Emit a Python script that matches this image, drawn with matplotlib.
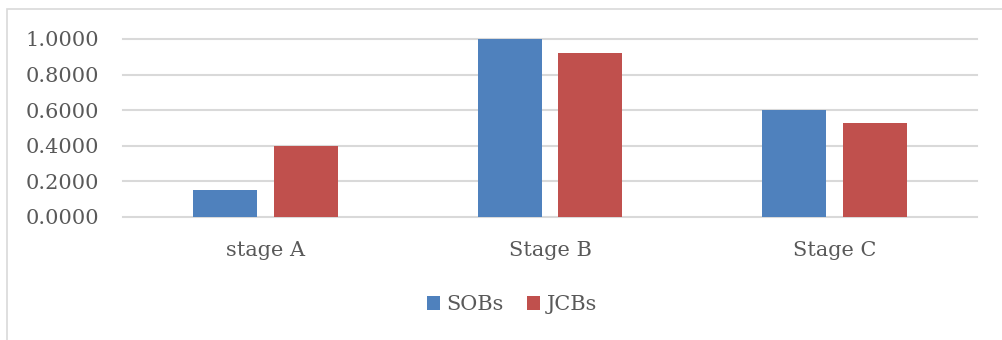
import matplotlib
matplotlib.use("Agg")
import matplotlib.pyplot as plt
from matplotlib.patches import Rectangle
import numpy as np

categories = ["stage A", "Stage B", "Stage C"]
sobs = [0.15, 1.00, 0.60]
jcbs = [0.40, 0.92, 0.53]
y_ticks = [0.0, 0.2, 0.4, 0.6, 0.8, 1.0]

BLUE = "#4F81BD"
RED = "#C0504D"
GRID = "#D9D9D9"
TEXT = "#595959"
FONT = "DejaVu Serif"

W, H = 1003, 340
fig = plt.figure(figsize=(W / 100, H / 100), dpi=100)
fig.patch.set_facecolor("white")

# outer chart frame
fig.patches.append(Rectangle((7 / W, -0.1), 1.2, (H - 9) / H + 0.1,
                             transform=fig.transFigure, fill=False,
                             edgecolor="#D9D9D9", linewidth=1.2))

ax = fig.add_axes([123 / W, 1 - 217 / H, (977 - 123) / W, (217 - 39) / H])
ax.set_facecolor("none")

x = np.arange(len(categories))
bw = 0.225
off = 0.142
ax.bar(x - off, sobs, bw, color=BLUE, label="SOBs", zorder=3)
ax.bar(x + off, jcbs, bw, color=RED, label="JCBs", zorder=3)

ax.set_xlim(-0.5, 2.5)
ax.set_ylim(0, 1.0)
ax.set_yticks(y_ticks)
ax.set_yticklabels([f"{v:.4f}" for v in y_ticks])
ax.set_xticks(x)
ax.set_xticklabels(categories)

for v in y_ticks:
    ax.axhline(v, color=GRID, linewidth=1.5, zorder=1, clip_on=False)

for s in ax.spines.values():
    s.set_visible(False)
ax.tick_params(axis="both", length=0, colors=TEXT, labelsize=15)
ax.tick_params(axis="y", pad=17)
ax.tick_params(axis="x", pad=17)
for lbl in ax.get_xticklabels() + ax.get_yticklabels():
    lbl.set_fontfamily(FONT)
    lbl.set_color(TEXT)

leg = fig.legend(loc="center", bbox_to_anchor=(512 / W, 1 - 305 / H), ncol=2,
                 frameon=False, handlelength=0.65, handleheight=0.65,
                 handletextpad=0.3, columnspacing=1.1,
                 prop={"family": FONT, "size": 15})
for t in leg.get_texts():
    t.set_color(TEXT)

fig.savefig("out.png", dpi=100)
